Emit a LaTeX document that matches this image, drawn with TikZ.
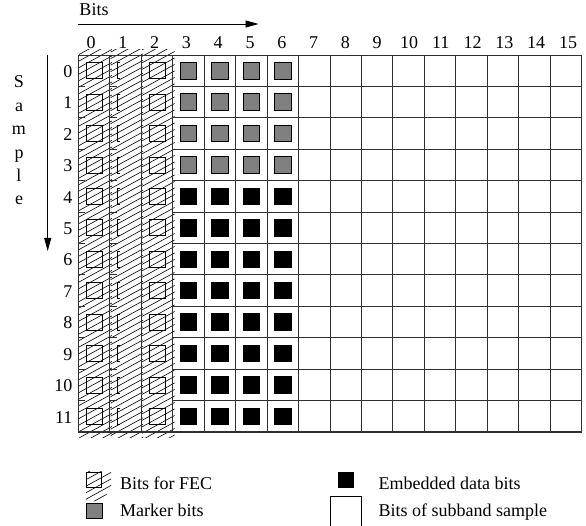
\documentclass[tikz,border=0pt]{standalone}
\usepackage{fontspec}
\setmainfont{Liberation Serif}
\usetikzlibrary{arrows.meta}
\definecolor{MarkGray}{HTML}{808080}
\definecolor{GridLine}{HTML}{303030}

\begin{document}
\begin{tikzpicture}[x=1pt,y=-1pt,font=\fontsize{18}{21}\selectfont,
  gridline/.style={GridLine,line width=0.9pt},
  hatchline/.style={black,line width=0.6pt},
  bitbox/.style={draw=black,line width=0.8pt},
  axisarrow/.style={line width=0.9pt,-{Triangle[length=13pt,width=7pt]}}]
\path[use as bounding box] (0,0) rectangle (586,526);
% hatched FEC columns 0..2
\foreach \c in {0,1,2} {
  \begin{scope}
  \clip ({78.3+\c*31.46+0.8},50) rectangle ({78.3+(\c+1)*31.46+2},437);
  \foreach \k in {0,...,80} \draw[hatchline] (70,{40+6.5*\k+\c*2}) -- (190,{40+6.5*\k+\c*2-66});
  \end{scope}
}
% grid
\foreach \c in {0,...,16} \draw[gridline] ({78.3+\c*31.46},55) -- ({78.3+\c*31.46},432);
\foreach \r in {1,...,11} {
  \draw[gridline] (172.7,{55+\r*31.42}) -- (581.7,{55+\r*31.42});
  \draw[gridline] (78.3,{55+\r*31.42}) -- ++(7,0);
  \draw[gridline] (109.8,{55+\r*31.42}) -- ++(7,0);
}
\draw[gridline] (78.3,55) -- (581.7,55);
\draw[gridline,line width=1.4pt] (78.3,432) -- (581.7,432);
% bit boxes
\foreach \r in {0,...,11} {
  \draw[bitbox] ({94.03-8},{70.7+\r*31.42-8}) rectangle ++(16,16);
  \draw[bitbox] ({156.95-8},{70.7+\r*31.42-8}) rectangle ++(16,16);
  \draw[bitbox] ({125.49-5},{70.7+\r*31.42-8}) -- ++(-3,0) -- ++(0,16) -- ++(3,0);
}
\foreach \c in {3,...,6} {
  \foreach \r in {0,...,3}
    \filldraw[bitbox,fill=MarkGray] ({78.3+(\c+0.5)*31.46-8.25},{70.7+\r*31.42-8.25}) rectangle ++(16.5,16.5);
  \foreach \r in {4,...,11}
    \filldraw[bitbox,fill=black] ({78.3+(\c+0.5)*31.46-8.25},{70.7+\r*31.42-8.25}) rectangle ++(16.5,16.5);
}
% labels
\foreach \c in {0,...,15} \node (col\c) at ({91+\c*31.8},43) {\c};
\foreach \r in {0,...,11} \node[anchor=east] (row\r) at (76,{71.5+\r*31.42}) {\r};
\node (bitslabel) at (94,10) {Bits};
\coordinate (bitsstart) at (78.3,24);
\coordinate (bitsend) at (258.5,24);
\draw[axisarrow] (bitsstart) -- (bitsend);
\foreach \ch [count=\i from 0] in {S,a,m,p,l,e}
  \node[anchor=base] (sample\i) at (19,{88+23.4*\i}) {\ch};
\coordinate (samplestart) at (47.7,55);
\coordinate (sampleend) at (47.7,251);
\draw[axisarrow] (samplestart) -- (sampleend);
% legend
\begin{scope}
\clip (86,471) -- (111,471) -- (111,488) -- (102,501) -- (86,501) -- cycle;
\foreach \k in {0,...,10} \draw[hatchline] (80,{470+6.5*\k}) -- (120,{470+6.5*\k-22});
\end{scope}
\draw[bitbox] (86.5,472) rectangle (101.5,487);
\node[anchor=base west] (fectext) at (116.5,489) {Bits for FEC};
\filldraw[bitbox,fill=MarkGray] (86.7,503) rectangle (102.2,518);
\node[anchor=base west] (markertext) at (116.5,516) {Marker bits};
\filldraw[bitbox,fill=black] (338.3,472) rectangle (353.3,487);
\node[anchor=base west] (datatext) at (375,489) {Embedded data bits};
\draw[bitbox] (330,530) -- (330,496) -- (361.7,496) -- (361.7,530);
\node[anchor=base west] (sampletext) at (375,516) {Bits of subband sample};
\end{tikzpicture}
\end{document}
